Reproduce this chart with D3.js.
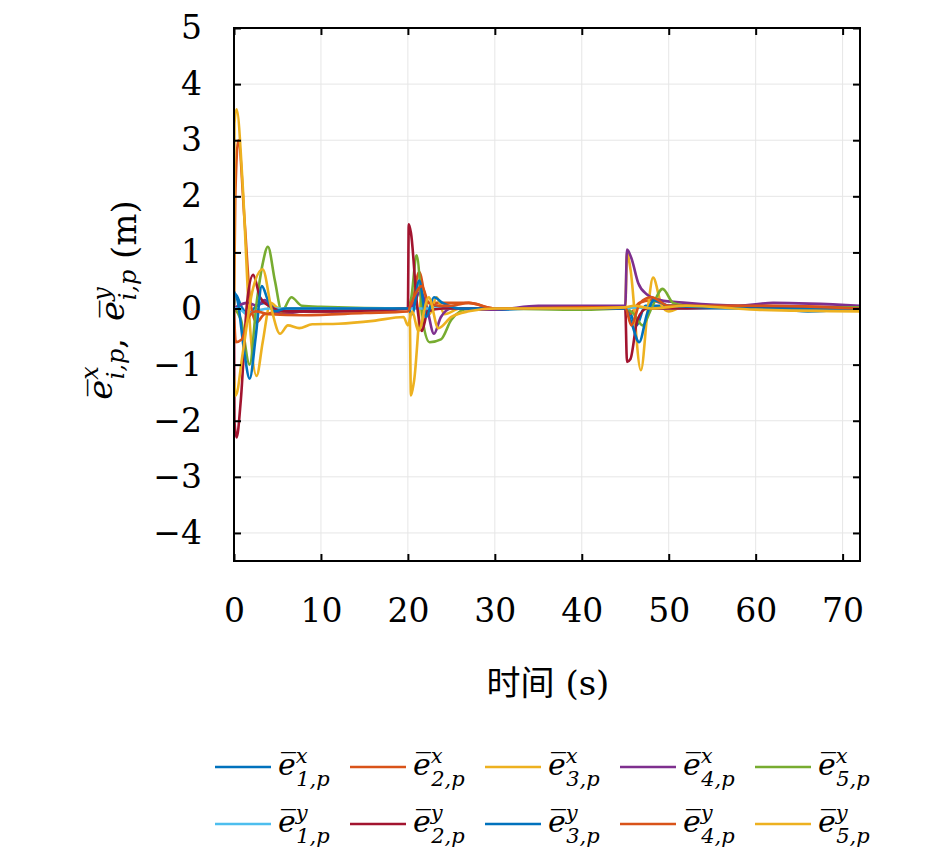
<!DOCTYPE html>
<html><head><meta charset="utf-8">
<script src="https://cdn.jsdelivr.net/npm/d3@7"></script>
<style>body{margin:0;background:#fff}text{font-family:"DejaVu Serif","Liberation Serif",serif}</style>
</head><body><svg id="c" width="945" height="861"></svg>
<script>
const xTicks = [0,10,20,30,40,50,60,70]
const yTicks = [-4,-3,-2,-1,0,1,2,3,4,5]
const seriesNames = [['1','x'],['2','x'],['3','x'],['4','x'],['5','x'],['1','y'],['2','y'],['3','y'],['4','y'],['5','y']]
const colors = ['#0072BD','#D95319','#EDB120','#7E2F8E','#77AC30','#4DBEEE','#A2142F','#0072BD','#D95319','#EDB120']

// [t, value] pairs
const e1x = [[0,0],[0.2,0.25],[0.8,0.05],[1.6,-0.1],[2.6,0.05],[3.5,0.1],[5,0],[10,-0.05],[15,-0.03],[20,0],[20.3,0],[21.2,0.35],[22,-0.05],[23,0.05],[25,0],[30,-0.02],[38,0.02],[45,0.02],[45.3,0],[46.3,-0.3],[47.3,0.05],[50,0.05],[60,0.03],[66,-0.05],[72,0]]
const e2x = [[0,0],[0.15,2],[0.5,3.0],[1.2,1.6],[1.9,0.1],[2.6,-0.25],[3.5,-0.1],[6,-0.05],[10,-0.05],[20,0],[20.4,0.05],[21.3,0.65],[22.2,0.1],[24,0.1],[27,0.1],[30,0],[40,0.02],[45,0],[45.5,-0.1],[46.6,0.1],[48,0.15],[50,0.05],[60,0.05],[72,0.02]]
const e3x = [[0,0],[0.05,3.3],[0.3,3.55],[1,2.2],[1.7,0],[2.6,-1.2],[3.3,-0.6],[4.2,0.1],[5.2,0],[7,0],[10,-0.05],[20,0],[20.2,0],[20.35,-1.55],[20.7,-1.3],[21.7,0.35],[22.5,-0.1],[23.3,0.2],[24.2,-0.1],[26,0],[30,0],[45,0],[45.2,1.0],[45.6,0.7],[46.8,-1.1],[47.6,0],[48.2,0.55],[49.2,0.05],[50,-0.05],[52,0.05],[60,0],[72,-0.03]]
const e4x = [[0,0],[0.5,0.05],[1.5,0.1],[2.7,0.05],[3.5,0.15],[4.5,0],[5.5,-0.1],[8,-0.05],[15,-0.05],[20,0],[20.6,0.05],[21.4,0.3],[22.2,0],[23,-0.45],[23.8,-0.15],[25,0],[30,-0.02],[35,0.05],[45,0.05],[45.2,1.05],[45.7,0.9],[46.5,0.45],[47.5,0.25],[49,0.15],[52,0.1],[58,0.05],[62,0.1],[72,0.05]]
const e5x = [[0,0],[0.8,-0.2],[1.8,-1.0],[2.6,0.1],[3.3,0.8],[3.9,1.1],[4.7,0.5],[5.5,-0.05],[6.6,0.2],[7.8,0.05],[10,0.03],[20,0],[20.4,0.2],[21,0.95],[21.8,-0.3],[22.5,-0.6],[23.8,-0.55],[25,-0.2],[27,0],[30,0],[40,-0.02],[45,0],[46,-0.1],[47,-0.3],[48,0],[49.3,0.35],[50.5,0.1],[52,0.05],[60,0],[72,0.02]]
const e1y = [[0,0],[0.5,0],[1.5,-0.1],[2.5,-0.05],[4,0],[10,0],[20,0],[30,0],[45,0],[46,0.02],[50,0],[72,0]]
const e2y = [[0,0],[0.05,-2.0],[0.3,-2.3],[0.8,-1.6],[1.5,0.1],[2.2,0.6],[3,0.2],[4,0.05],[6,-0.05],[10,-0.05],[20,0],[20.1,1.5],[20.35,1.35],[21.1,0],[21.6,-0.4],[22.3,-0.05],[24,0],[30,0],[45,0],[45.2,-0.95],[45.6,-0.9],[46.4,-0.2],[47.5,0],[50,0],[60,0.02],[72,0]]
const e3y = [[0,0.3],[0.4,0.15],[1.2,-0.8],[1.8,-1.25],[2.5,-0.5],[3.2,0.4],[3.9,0.15],[4.6,-0.05],[6,0],[10,0],[20,0],[20.5,-0.1],[21.3,0.5],[22.1,-0.15],[23,0.2],[24,0.1],[26,0],[30,0],[45,0],[45.6,-0.2],[46.6,-0.6],[47.5,-0.1],[48.3,0.15],[50,0.05],[60,0],[72,0]]
const e4y = [[0,0],[0.2,-0.6],[0.9,-0.55],[1.7,-0.15],[2.5,-0.05],[4,-0.1],[8,-0.12],[15,-0.08],[20,-0.05],[20.4,0.1],[21.6,0.4],[22.4,0.1],[23.5,0.05],[25,0.05],[27,0.1],[30,0],[40,0.02],[45,0.02],[45.7,-0.3],[46.7,0.1],[48,0.2],[50,0.05],[60,0.05],[72,0]]
const e5y = [[0,-1.2],[0.2,-1.55],[1,-0.8],[2.1,0.3],[3.3,0.7],[4.3,0],[5.3,-0.45],[6.2,-0.3],[7.5,-0.35],[9,-0.28],[12,-0.27],[16,-0.22],[19.5,-0.15],[20,-0.3],[20.5,-0.05],[21.2,-0.4],[22.4,0.2],[23.5,-0.35],[25,-0.15],[27,-0.05],[30,0],[40,0],[45,0.02],[46,0.05],[48,0],[52,0.05],[60,-0.02],[72,-0.05]]
const allSeries = [e1x,e2x,e3x,e4x,e5x,e1y,e2y,e3y,e4y,e5y]

const svg = d3.select('#c')
const L = 234, R = 860, T = 28, B = 561
const x = d3.scaleLinear().domain([0,72]).range([L,R])
const y = d3.scaleLinear().domain([-4.5,5]).range([B,T])

// grid
svg.append('g').selectAll('line').data(xTicks).join('line')
  .attr('x1', d => x(d)).attr('x2', d => x(d)).attr('y1', T).attr('y2', B)
  .attr('stroke', '#e6e6e6')
svg.append('g').selectAll('line').data(yTicks).join('line')
  .attr('y1', d => y(d)).attr('y2', d => y(d)).attr('x1', L).attr('x2', R)
  .attr('stroke', '#e6e6e6')

const line = d3.line().x(d => x(d[0])).y(d => y(d[1])).curve(d3.curveMonotoneX)
svg.append('defs').append('clipPath').attr('id','clip').append('rect')
  .attr('x', L).attr('y', T).attr('width', R - L).attr('height', B - T)
const lines = svg.append('g').attr('clip-path','url(#clip)')
allSeries.forEach((s, i) => {
  lines.append('path').datum(s).attr('d', line)
    .attr('fill','none').attr('stroke', colors[i]).attr('stroke-width', 2.6)
})

// axes
const ax = (g, a) => g.call(a).call(g => g.select('.domain').remove())
  .call(g => g.selectAll('line').attr('stroke','#000').attr('stroke-width',2))
  .call(g => g.selectAll('text').style('font-size','33px').style('font-family','"DejaVu Serif"').attr('fill','#000'))
ax(svg.append('g').attr('transform',`translate(0,${B})`), d3.axisBottom(x).tickValues(xTicks).tickSize(-7).tickPadding(38))
ax(svg.append('g').attr('transform',`translate(${L},0)`), d3.axisLeft(y).tickValues(yTicks).tickSize(-7).tickPadding(32)
  .tickFormat(d => d < 0 ? '\u2212' + (-d) : d))
ax(svg.append('g').attr('transform',`translate(0,${T})`), d3.axisTop(x).tickValues(xTicks).tickSize(-7).tickFormat(''))
ax(svg.append('g').attr('transform',`translate(${R},0)`), d3.axisRight(y).tickValues(yTicks).tickSize(-7).tickFormat(''))
svg.append('rect').attr('x',L).attr('y',T).attr('width',R-L).attr('height',B-T)
  .attr('fill','none').attr('stroke','#000').attr('stroke-width',2)

// labels
svg.append('text').attr('x', 548).attr('y', 695).attr('text-anchor','middle').style('font-size','34px')
  .html('<tspan style="font-family:\'Noto Sans CJK SC\'">时间</tspan> (s)')

const E = 'e\u0305'
const eSym = (t, sub, sup, fs) => {
  t.append('tspan').attr('font-style','italic').style('font-size', fs + 'px').text(E)
  t.append('tspan').attr('font-style','italic').attr('dy', -fs*0.4).style('font-size', fs*0.7 + 'px').text(sup)
  t.append('tspan').attr('font-style','italic').attr('dx', -fs*0.38).attr('dy', fs*0.75).style('font-size', fs*0.7 + 'px').text(sub)
  t.append('tspan').attr('dy', -fs*0.35).style('font-size', fs + 'px').text('')
  return t
}
const yl = svg.append('text').attr('transform','translate(112,300) rotate(-90)').attr('text-anchor','middle').style('font-size','34px')
eSym(yl, 'i,p', 'x', 34)
yl.append('tspan').text(',\u2002')
eSym(yl, 'i,p', 'y', 34)
yl.append('tspan').text(' (m)')

// legend
seriesNames.forEach((n, i) => {
  const col = i % 5, row = Math.floor(i / 5)
  const g = svg.append('g').attr('transform', `translate(${215 + col*135},${767 + row*57})`)
  g.append('line').attr('x1',0).attr('x2',56).attr('stroke', colors[i]).attr('stroke-width',2.6)
  eSym(g.append('text').attr('x', 63).attr('y', 8), n[0] + ',p', n[1], 30)
})
</script></body></html>
